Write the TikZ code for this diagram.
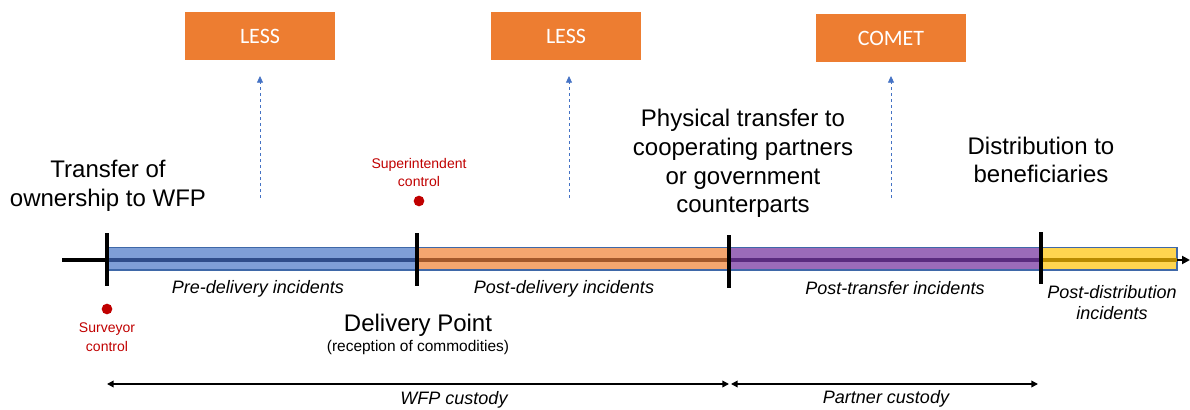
\documentclass[tikz,border=0pt]{standalone}
\usepackage{fontspec}
\setmainfont{Liberation Sans}
\newfontfamily\calib{Carlito}
\usetikzlibrary{arrows.meta}
\definecolor{boxor}{HTML}{ED7D31}
\definecolor{arrblue}{HTML}{4472C4}
\definecolor{ctrlred}{HTML}{C00000}
\definecolor{outl}{HTML}{3F68A8}
\definecolor{bluef}{HTML}{7F9FD7}
\definecolor{bluel}{HTML}{2F4D8A}
\definecolor{oranf}{HTML}{F4A66F}
\definecolor{oranl}{HTML}{A3582A}
\definecolor{purf}{HTML}{9B6BB9}
\definecolor{purl}{HTML}{5A2B7E}
\definecolor{yelf}{HTML}{FFD550}
\definecolor{yell}{HTML}{B88A00}
\tikzset{
  toolbox/.style={fill=boxor, minimum width=112.5pt, minimum height=36pt, inner sep=0pt,
    text=white, font=\calib\fontsize{16.5}{18}\selectfont},
  bigtxt/.style={align=center, font=\fontsize{18}{21.5}\selectfont, inner sep=0pt},
  inctxt/.style={align=center, font=\itshape\fontsize{13.5}{16}\selectfont, inner sep=0pt},
  ctrltxt/.style={align=center, text=ctrlred, font=\fontsize{10.5}{14}\selectfont, inner sep=0pt},
  reddot/.style={circle, fill=ctrlred, minimum size=8pt, inner sep=0pt},
  toolarrow/.style={arrblue, dashed, line width=0.6pt, dash pattern=on 2.5pt off 2pt, -{Triangle[length=5pt,width=4.5pt]}},
  barbox/.style={draw=outl, line width=1.1pt},
  midline/.style={line width=2.4pt},
  tick/.style={line width=3pt, black},
  custody/.style={line width=1.1pt, {Triangle[length=5pt,width=5pt]}-{Triangle[length=5pt,width=5pt]}},
}
\begin{document}
\begin{tikzpicture}[x=0.75pt, y=-0.75pt]
\useasboundingbox (0,0) rectangle (1190,410);
% tool boxes
\node[toolbox] (less1) at (260,36) {LESS};
\node[toolbox] (less2) at (566,36) {LESS};
\node[toolbox] (comet) at (891,38.5) {COMET};
\coordinate (a1s) at (260,198); \coordinate (a1e) at (260,76);
\coordinate (a2s) at (569,198); \coordinate (a2e) at (569,76);
\coordinate (a3s) at (891,198); \coordinate (a3e) at (891,76);
\draw[toolarrow] (a1s) -- (a1e);
\draw[toolarrow] (a2s) -- (a2e);
\draw[toolarrow] (a3s) -- (a3e);
% stage labels
\node[bigtxt] (own) at (108,186) {Transfer of\\ownership to WFP};
\node[bigtxt] (phys) at (743,163.5) {Physical transfer to\\cooperating partners\\or government\\counterparts};
\node[bigtxt] (dist) at (1041,160) {Distribution to\\beneficiaries};
\node[ctrltxt] (sup) at (419,172.5) {Superintendent\\control};
\node[reddot] (supdot) at (419,201) {};
% timeline
\coordinate (t0) at (62,260);
\coordinate (p1) at (107,260);
\coordinate (p2) at (417,260);
\coordinate (p3) at (729,260);
\coordinate (p4) at (1041,260);
\coordinate (p5) at (1177,260);
\coordinate (tend) at (1190,260);
\draw[line width=2.4pt] (t0) -- (p1);
\filldraw[barbox, fill=bluef] (107,247.5) rectangle (417,270);
\draw[midline, bluel] (p1) -- (p2);
\filldraw[barbox, fill=oranf] (417,247.5) rectangle (729,270);
\draw[midline, oranl] (p2) -- (p3);
\filldraw[barbox, fill=purf] (729,247.5) rectangle (1041,270);
\draw[midline, purl] (p3) -- (p4);
\filldraw[barbox, fill=yelf] (1041,247.5) rectangle (1177,270);
\draw[midline, yell] (p4) -- (p5);
\draw[line width=1.6pt, -{Triangle[length=6pt,width=6pt]}] (p5) -- (tend);
\draw[tick] (107,233) -- (107,286);
\draw[tick] (417,233) -- (417,286);
\draw[tick] (729,235) -- (729,288);
\draw[tick] (1041,232) -- (1041,284);
% incidents
\node[inctxt] (pre) at (258,289) {Pre-delivery incidents};
\node[inctxt] (postdel) at (564,289) {Post-delivery incidents};
\node[inctxt] (posttr) at (895,288) {Post-transfer incidents};
\node[inctxt] (postdist) at (1112,302.5) {Post-distribution\\incidents};
% controls below
\node[reddot] (survdot) at (107,309) {};
\node[ctrltxt] (surv) at (107,337.5) {Surveyor\\control};
\node[bigtxt] (dp) at (418,325) {Delivery Point};
\node[font=\fontsize{11.6}{13}\selectfont, inner sep=0pt] (dpsub) at (418,347) {(reception of commodities)};
% custody
\coordinate (c1) at (107,384);
\coordinate (c2) at (729,384);
\coordinate (c2b) at (731,384);
\coordinate (c3) at (1038,384);
\draw[custody] (c1) -- (c2);
\draw[custody] (c2b) -- (c3);
\node[inctxt] (wfpc) at (454,400) {WFP custody};
\node[inctxt] (partc) at (886,399) {Partner custody};
\end{tikzpicture}
\end{document}
